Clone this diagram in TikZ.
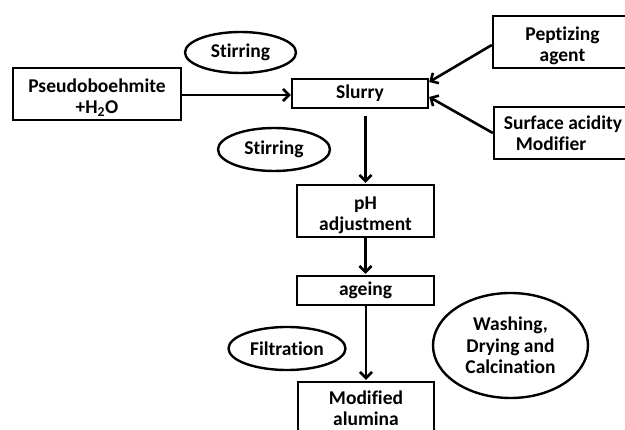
\documentclass[tikz,border=0pt]{standalone}
\usepackage{fontspec}
\setmainfont{Carlito}[Ligatures={NoCommon,NoContextual}]
\usetikzlibrary{shapes.geometric,arrows.meta,calc}
\newcommand\toppad{\rule{0pt}{21pt}}
\begin{document}
\begin{tikzpicture}[x=1pt,y=-1pt,
  every node/.style={font=\bfseries\fontsize{19.5}{21.5}\selectfont},
  box/.style={draw,line width=2.4pt,inner sep=0pt,align=center},
  oval/.style={draw,ellipse,line width=2.4pt,inner sep=0pt,align=center},
  arr/.style={line width=2.6pt,-{Straight Barb[length=6pt,width=12pt,line width=2.6pt]}}]
\useasboundingbox (0,0) rectangle (625,430);
\clip (0,0) rectangle (625,430);
\node[box,minimum width=168pt,minimum height=52pt] (pseudo) at (97,94) {\toppad Pseudoboehmite\\+H\textsubscript{2}O};
\node[box,minimum width=136pt,minimum height=29pt] (slurry) at (360,93.5) {Slurry};
\node[box,minimum width=139pt,minimum height=52pt] (pep) at (562.5,42) {\toppad Peptizing\\agent};
\node[box,minimum width=138pt,minimum height=52pt,align=left] (sam) at (563,133) {Surface acidity\\\hspace{12pt}Modifier};
\node[box,minimum width=137pt,minimum height=52pt] (ph) at (365.5,211) {\toppad pH\\adjustment};
\node[box,minimum width=137pt,minimum height=29pt] (age) at (365.5,290.5) {ageing};
\node[box,minimum width=136pt,minimum height=52pt] (mod) at (366,408) {Modified\\alumina};
\node[oval,minimum width=111pt,minimum height=41pt] (st1) at (240.5,52.5) {Stirring};
\node[oval,minimum width=112pt,minimum height=43pt] (st2) at (274,149.5) {Stirring};
\node[oval,minimum width=117pt,minimum height=43pt] (filt) at (287,348.5) {Filtration};
\node[oval,minimum width=155pt,minimum height=105pt] (wash) at (510.5,345.5) {Washing,\\Drying and\\Calcination};
\draw[arr] (pseudo.east |- 0,95) -- (slurry.west |- 0,95);
\draw[arr] ($(pep.west)+(0,3)$) -- ($(slurry.east)+(0,-11.5)$);
\draw[arr] (sam.west) -- ($(slurry.east)+(0,3.5)$);
\draw[arr,shorten <=7pt,shorten >=1pt] (ph.north |- slurry.south) -- (ph.north);
\draw[arr,shorten >=1pt] (age.north |- ph.south) -- (age.north);
\draw[arr,shorten >=1pt] (mod.north |- age.south) -- (mod.north);
\end{tikzpicture}
\end{document}
